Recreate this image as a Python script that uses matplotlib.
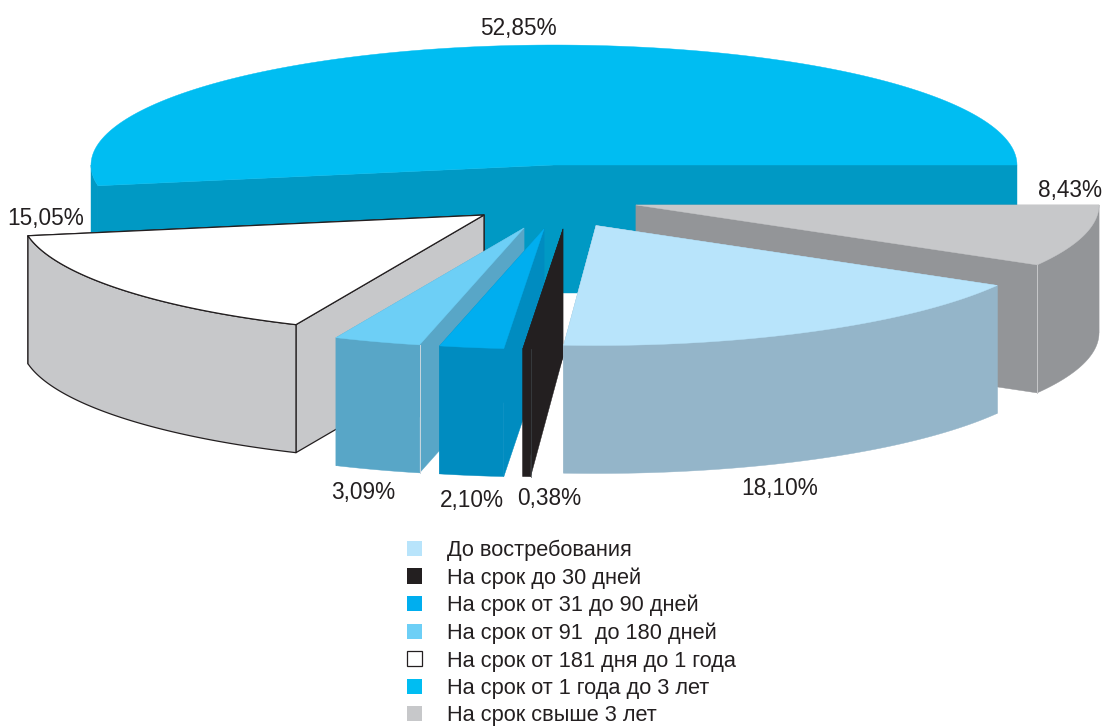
import numpy as np
import matplotlib
matplotlib.use("Agg")
import matplotlib.pyplot as plt
from matplotlib.patches import Polygon, Patch

plt.rcParams['font.family'] = ['Liberation Sans', 'DejaVu Sans']

# ---- data ----
categories = ["На срок от 1 года до 3 лет", "На срок от 181 дня до 1 года",
              "На срок от 91  до 180 дней", "На срок от 31 до 90 дней",
              "На срок до 30 дней", "До востребования", "На срок свыше 3 лет"]
shares = [52.85, 15.05, 3.09, 2.10, 0.38, 18.10, 8.43]
legend_order = ["До востребования", "На срок до 30 дней", "На срок от 31 до 90 дней",
                "На срок от 91  до 180 дней", "На срок от 181 дня до 1 года",
                "На срок от 1 года до 3 лет", "На срок свыше 3 лет"]

# ---- styles / layout ----
top_colors = ["#00bdf2", "#ffffff", "#6dcff6", "#00aeef", "#231f20", "#b8e4fb", "#c7c8ca"]
wall_colors = ["#0099c4", "#c7c8ca", "#58a6c7", "#008cc0", "#231f20", "#94b5c9", "#939598"]
centres = [(554, 165), (484, 215), (524, 228), (544, 229), (563, 229), (596, 225.5), (636, 205)]
boundary_nudge = [0, -0.3, 1.6, 1.4, 1.9, 1.5, 0.4, 0]
label_pos = [(518, 29), (46, 219), (363, 492), (472, 500), (549, 499), (780, 489), (1070, 190)]
draw_order = [0, 6, 1, 2, 3, 4, 5]
RX, RY, DEPTH = 463, 120, 128

edges = 3.6 * np.concatenate([[0], np.cumsum(shares)]) + np.array(boundary_nudge)

fig = plt.figure(figsize=(11.06, 7.27), dpi=100)
ax = fig.add_axes([0, 0, 1, 1])
ax.set_xlim(0, 1106)
ax.set_ylim(727, 0)
ax.axis("off")


def rim(c, t):
    t = np.radians(t)
    return np.column_stack([c[0] + RX * np.cos(t), c[1] - RY * np.sin(t)])


def face(pts, color, outlined, z):
    ec = "#231f20" if outlined else color
    ax.add_patch(Polygon(pts, closed=True, fc=color, ec=ec, lw=0.9 if outlined else 0.3,
                         joinstyle="round", zorder=z))


for z, i in enumerate(draw_order):
    c, t1, t2 = centres[i], edges[i], edges[i + 1]
    arc = rim(c, np.linspace(t1, t2, 160))
    front = rim(c, np.linspace(max(t1, 180), t2, 160))
    down = np.array([0, DEPTH])
    apex = np.array([c])
    outlined = top_colors[i] == "#ffffff"
    base = z * 10
    for end in (arc[0], arc[-1]):
        end = end[None, :]
        face(np.vstack([apex, end, end + down, apex + down]), wall_colors[i], outlined, base + 1)
    face(np.vstack([front, (front + down)[::-1]]), wall_colors[i], outlined, base + 2)
    face(np.vstack([apex, arc]), top_colors[i], outlined, base + 3)

# thin highlight lines where a side wall meets the outer wall
for i, k, col, w in [(2, 3, "#c9d6de", 0.7), (6, 6, "#c7c8ca", 0.7), (4, 5, "#3d4448", 0.5)]:
    p = rim(centres[i], edges[k])[0]
    ax.plot([p[0], p[0]], [p[1], p[1] + DEPTH], color=col, lw=w,
            zorder=draw_order.index(i) * 10 + 4)

for value, (x, y) in zip(shares, label_pos):
    ax.text(x, y, f"{value:.2f}%".replace(".", ","), fontsize=16.3, color="#231f20",
            ha="center", va="center", zorder=200)

handles = []
for name in legend_order:
    i = categories.index(name)
    white = top_colors[i] == "#ffffff"
    handles.append(Patch(fc=top_colors[i], ec="#231f20" if white else top_colors[i],
                         lw=0.9 if white else 0, label=name))
FS = 15.7
fs_px = FS * 100 / 72
leg = ax.legend(handles=handles, loc="upper left", bbox_to_anchor=(407, 539.5),
                bbox_transform=ax.transData, frameon=False, borderpad=0, borderaxespad=0,
                fontsize=FS, handlelength=15 / fs_px, handleheight=15 / fs_px,
                handletextpad=25 / fs_px, labelspacing=0.29, labelcolor="#231f20")
leg.set_zorder(300)

fig.savefig("out.png", dpi=100)
